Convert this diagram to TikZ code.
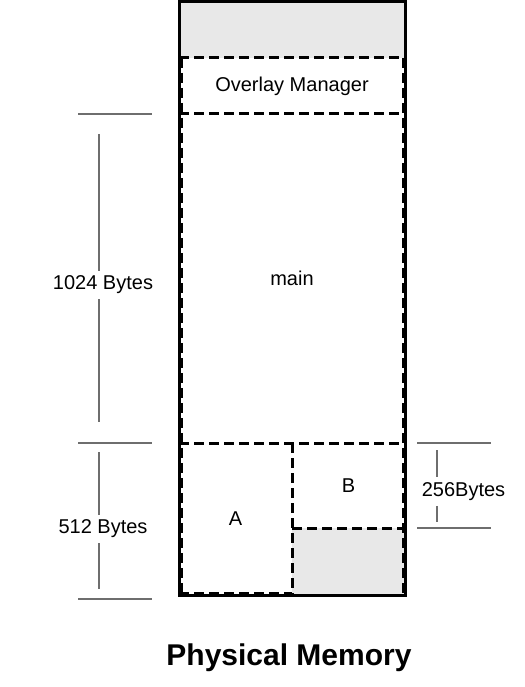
\documentclass[tikz,border=0pt]{standalone}
\usepackage{fontspec}
\setmainfont{Liberation Sans}
\usepackage{tikz}
\definecolor{mgrey}{RGB}{232,232,232}
\definecolor{mdim}{RGB}{110,110,110}

\begin{document}
\begin{tikzpicture}[x=1pt, y=-1pt,
    seg/.style={inner sep=0pt, outer sep=0pt, font=\fontsize{20}{24}\selectfont},
    part/.style={line width=3pt, dash pattern=on 10pt off 5pt},
    edge/.style={line width=2pt, dash pattern=on 10pt off 5pt},
    spare/.style={fill=mgrey, inner sep=0pt, outer sep=0pt},
    dim/.style={draw=mdim, line width=1.2pt},
    dimlbl/.style={inner xsep=0pt, inner ysep=5pt, font=\fontsize{20}{24}\selectfont},
  ]
    \useasboundingbox (0,0) rectangle (524,687);

    % unused parts of memory
    \node[spare, minimum width=226pt, minimum height=56pt]  (free1) at (292,30)      {};
    \node[spare, minimum width=113pt, minimum height=67pt]  (free2) at (348.5,561.5) {};

    % segments
    \node[seg, minimum width=226pt, minimum height=56pt]  (ovl)  at (292,86)      {Overlay Manager};
    \node[seg, minimum width=226pt, minimum height=329pt] (main) at (292,278.5)   {main};
    \node[seg, minimum width=113pt, minimum height=152pt] (A)    at (235.5,519)   {A};
    \node[seg, minimum width=113pt, minimum height=85pt]  (B)    at (348.5,485.5) {B};

    \draw[part] (ovl.north west) -- (ovl.north east);
    \draw[part] (main.north west) -- (main.north east);
    \draw[part] (A.north west) -- (B.north east);
    \draw[part] (B.north west) -- (A.south east);
    \draw[part] (B.south west) -- (B.south east);
    % dashed borders just inside the outline
    \draw[edge] ([xshift=2.5pt]ovl.north west) -- ([xshift=2.5pt]A.south west);
    \draw[edge] ([xshift=-2.5pt]ovl.north east) -- ([xshift=-2.5pt]free2.south east);
    \draw[edge] ([yshift=2.5pt]A.south west) -- ([yshift=2.5pt]A.south east);

    \node[draw, line width=3pt, inner sep=0pt, minimum width=226pt, minimum height=593pt]
         (mem) at (292,298.5) {};

    % dimensions
    \coordinate (t1a) at (78,114);  \coordinate (t1b) at (152,114);
    \coordinate (t2a) at (78,443);  \coordinate (t2b) at (152,443);
    \coordinate (t3a) at (78,599);  \coordinate (t3b) at (152,599);
    \coordinate (t4a) at (417,443); \coordinate (t4b) at (491,443);
    \coordinate (t5a) at (417,528); \coordinate (t5b) at (491,528);
    \coordinate (v1t) at (99,134);  \coordinate (v1b) at (99,422);
    \coordinate (v2t) at (99,452);  \coordinate (v2b) at (99,589);
    \coordinate (v3t) at (437,450); \coordinate (v3b) at (437,522);

    \node[dimlbl] (L1024) at (103,284.8)   {1024 Bytes};
    \node[dimlbl] (L512)  at (103,528.9)   {512 Bytes};
    \node[dimlbl] (L256)  at (463.5,491.5) {256Bytes};

    \draw[dim] (t1a) -- (t1b);
    \draw[dim] (t2a) -- (t2b);
    \draw[dim] (t3a) -- (t3b);
    \draw[dim] (t4a) -- (t4b);
    \draw[dim] (t5a) -- (t5b);
    \draw[dim] (v1t) -- (v1t |- L1024.north);
    \draw[dim] (v1t |- L1024.south) -- (v1b);
    \draw[dim] (v2t) -- (v2t |- L512.north);
    \draw[dim] (v2t |- L512.south) -- (v2b);
    \draw[dim] (v3t) -- (v3t |- L256.north);
    \draw[dim] (v3t |- L256.south) -- (v3b);

    \node[font=\fontsize{30}{36}\selectfont\bfseries, anchor=base] (title) at (289,665) {Physical Memory};
  \end{tikzpicture}
\end{document}
